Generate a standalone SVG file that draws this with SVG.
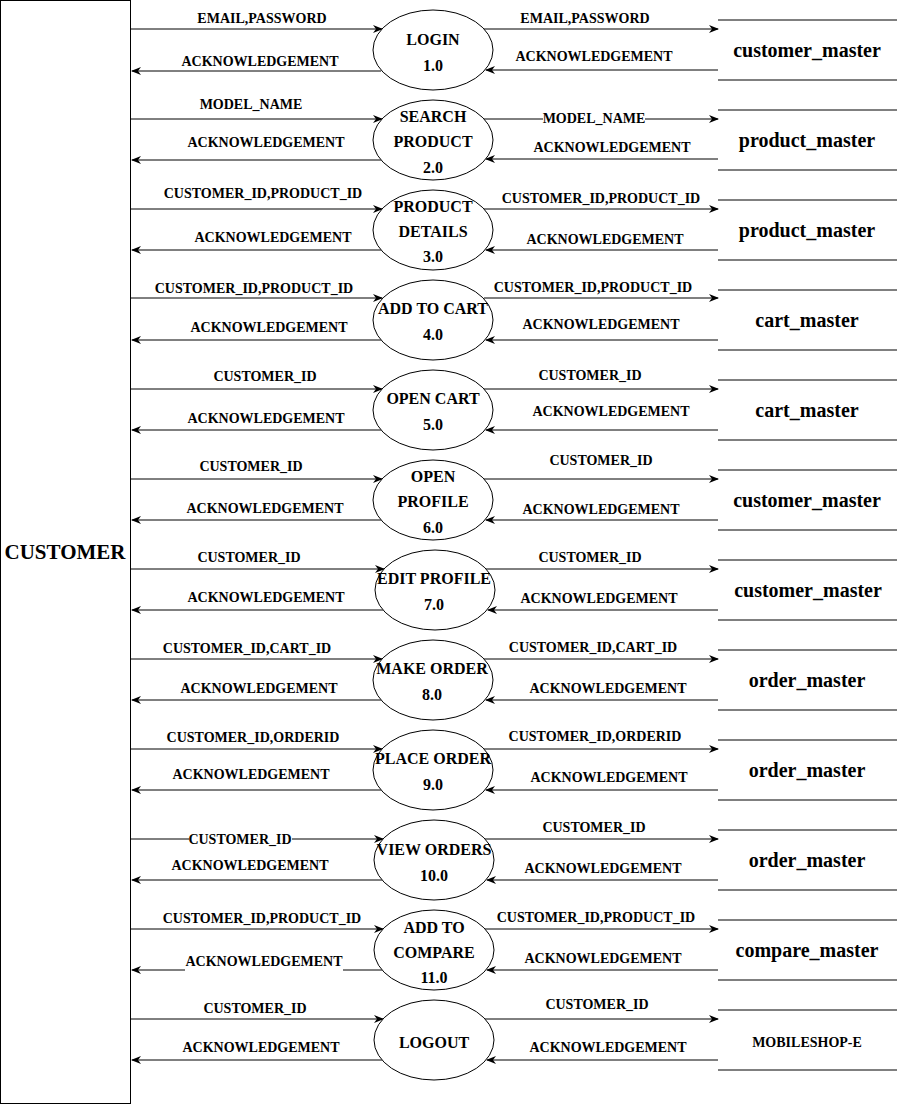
<svg xmlns="http://www.w3.org/2000/svg" width="898" height="1104" viewBox="0 0 898 1104">
<style>
.t{font-family:"Liberation Serif","Times New Roman",serif;font-weight:bold;fill:#000;text-anchor:middle}
.l{font-size:14px}
.p{font-size:16px}
.s{font-size:20px}
.c{stroke:#000;stroke-width:1;fill:none}
.f{stroke:#000;stroke-width:1;fill:none;marker-end:url(#ah)}
.e{fill:#fff;stroke:#000;stroke-width:1}
</style>
<defs>
<marker id="ah" markerWidth="10" markerHeight="8" refX="9" refY="4" orient="auto" markerUnits="userSpaceOnUse">
<path d="M0,0 L10,4 L0,8 L3,4 Z" fill="#000"/>
</marker>
</defs>
<rect width="898" height="1104" fill="#fff"/>
<g id="customer">
<rect x="0.5" y="0.5" width="130" height="1103" fill="#fff" stroke="#000"/>
<text class="t" x="65" y="559" font-size="21">CUSTOMER</text>
</g>
<g id="connectors">
<line class="f" x1="130" y1="29" x2="382" y2="29"/><line class="f" x1="381" y1="71" x2="132" y2="71"/><line class="f" x1="484" y1="29" x2="718" y2="29"/><line class="f" x1="718" y1="70" x2="486" y2="70"/>
<line class="f" x1="130" y1="119" x2="382" y2="119"/><line class="f" x1="381" y1="160" x2="132" y2="160"/><line class="f" x1="484" y1="119" x2="718" y2="119"/><line class="f" x1="718" y1="159" x2="486" y2="159"/>
<line class="f" x1="130" y1="209" x2="382" y2="209"/><line class="f" x1="381" y1="250" x2="132" y2="250"/><line class="f" x1="484" y1="209" x2="718" y2="209"/><line class="f" x1="718" y1="250" x2="486" y2="250"/>
<line class="f" x1="130" y1="298" x2="382" y2="298"/><line class="f" x1="381" y1="340" x2="132" y2="340"/><line class="f" x1="484" y1="298" x2="718" y2="298"/><line class="f" x1="718" y1="340" x2="486" y2="340"/>
<line class="f" x1="130" y1="389" x2="382" y2="389"/><line class="f" x1="381" y1="430" x2="132" y2="430"/><line class="f" x1="484" y1="389" x2="718" y2="389"/><line class="f" x1="718" y1="430" x2="486" y2="430"/>
<line class="f" x1="130" y1="479" x2="382" y2="479"/><line class="f" x1="381" y1="520" x2="132" y2="520"/><line class="f" x1="484" y1="479" x2="718" y2="479"/><line class="f" x1="718" y1="520" x2="486" y2="520"/>
<line class="f" x1="130" y1="569" x2="384" y2="569"/><line class="f" x1="383" y1="610" x2="132" y2="610"/><line class="f" x1="486" y1="569" x2="718" y2="569"/><line class="f" x1="718" y1="610" x2="488" y2="610"/>
<line class="f" x1="130" y1="659" x2="382" y2="659"/><line class="f" x1="381" y1="700" x2="132" y2="700"/><line class="f" x1="484" y1="659" x2="718" y2="659"/><line class="f" x1="718" y1="700" x2="486" y2="700"/>
<line class="f" x1="130" y1="749" x2="382" y2="749"/><line class="f" x1="381" y1="790" x2="132" y2="790"/><line class="f" x1="484" y1="749" x2="718" y2="749"/><line class="f" x1="718" y1="790" x2="486" y2="790"/>
<line class="f" x1="130" y1="839" x2="383" y2="839"/><line class="f" x1="382" y1="880" x2="132" y2="880"/><line class="f" x1="485" y1="839" x2="718" y2="839"/><line class="f" x1="718" y1="880" x2="487" y2="880"/>
<line class="f" x1="130" y1="929" x2="383" y2="929"/><line class="f" x1="382" y1="970" x2="132" y2="970"/><line class="f" x1="485" y1="929" x2="718" y2="929"/><line class="f" x1="718" y1="970" x2="487" y2="970"/>
<line class="f" x1="130" y1="1019" x2="383" y2="1019"/><line class="f" x1="382" y1="1060" x2="132" y2="1060"/><line class="f" x1="485" y1="1019" x2="718" y2="1019"/><line class="f" x1="718" y1="1060" x2="487" y2="1060"/>
</g>
<g id="labels">
<rect x="543" y="111" width="102" height="15" fill="#fff"/>
<rect x="189" y="831" width="103" height="15" fill="#fff"/>
<rect x="185" y="953" width="158" height="18" fill="#fff"/>
<text class="t l" x="262" y="23">EMAIL,PASSWORD</text><text class="t l" x="260" y="66">ACKNOWLEDGEMENT</text><text class="t l" x="585" y="23">EMAIL,PASSWORD</text><text class="t l" x="594" y="61">ACKNOWLEDGEMENT</text>
<text class="t l" x="251" y="109">MODEL_NAME</text><text class="t l" x="266" y="147">ACKNOWLEDGEMENT</text><text class="t l" x="594" y="123">MODEL_NAME</text><text class="t l" x="612" y="152">ACKNOWLEDGEMENT</text>
<text class="t l" x="263" y="198">CUSTOMER_ID,PRODUCT_ID</text><text class="t l" x="273" y="242">ACKNOWLEDGEMENT</text><text class="t l" x="601" y="203">CUSTOMER_ID,PRODUCT_ID</text><text class="t l" x="605" y="244">ACKNOWLEDGEMENT</text>
<text class="t l" x="254" y="293">CUSTOMER_ID,PRODUCT_ID</text><text class="t l" x="269" y="332">ACKNOWLEDGEMENT</text><text class="t l" x="593" y="292">CUSTOMER_ID,PRODUCT_ID</text><text class="t l" x="601" y="329">ACKNOWLEDGEMENT</text>
<text class="t l" x="265" y="381">CUSTOMER_ID</text><text class="t l" x="266" y="423">ACKNOWLEDGEMENT</text><text class="t l" x="590" y="380">CUSTOMER_ID</text><text class="t l" x="611" y="416">ACKNOWLEDGEMENT</text>
<text class="t l" x="251" y="471">CUSTOMER_ID</text><text class="t l" x="265" y="513">ACKNOWLEDGEMENT</text><text class="t l" x="601" y="465">CUSTOMER_ID</text><text class="t l" x="601" y="514">ACKNOWLEDGEMENT</text>
<text class="t l" x="249" y="562">CUSTOMER_ID</text><text class="t l" x="266" y="602">ACKNOWLEDGEMENT</text><text class="t l" x="590" y="562">CUSTOMER_ID</text><text class="t l" x="599" y="603">ACKNOWLEDGEMENT</text>
<text class="t l" x="247" y="653">CUSTOMER_ID,CART_ID</text><text class="t l" x="259" y="693">ACKNOWLEDGEMENT</text><text class="t l" x="593" y="652">CUSTOMER_ID,CART_ID</text><text class="t l" x="608" y="693">ACKNOWLEDGEMENT</text>
<text class="t l" x="253" y="742">CUSTOMER_ID,ORDERID</text><text class="t l" x="251" y="779">ACKNOWLEDGEMENT</text><text class="t l" x="595" y="741">CUSTOMER_ID,ORDERID</text><text class="t l" x="609" y="782">ACKNOWLEDGEMENT</text>
<text class="t l" x="240" y="844">CUSTOMER_ID</text><text class="t l" x="250" y="870">ACKNOWLEDGEMENT</text><text class="t l" x="594" y="832">CUSTOMER_ID</text><text class="t l" x="603" y="873">ACKNOWLEDGEMENT</text>
<text class="t l" x="262" y="923">CUSTOMER_ID,PRODUCT_ID</text><text class="t l" x="264" y="966">ACKNOWLEDGEMENT</text><text class="t l" x="596" y="922">CUSTOMER_ID,PRODUCT_ID</text><text class="t l" x="603" y="963">ACKNOWLEDGEMENT</text>
<text class="t l" x="255" y="1013">CUSTOMER_ID</text><text class="t l" x="261" y="1052">ACKNOWLEDGEMENT</text><text class="t l" x="597" y="1009">CUSTOMER_ID</text><text class="t l" x="608" y="1052">ACKNOWLEDGEMENT</text>
</g>
<g id="p1"><ellipse class="e" cx="433" cy="50" rx="60" ry="40"/><text class="t p" x="433" y="45">LOGIN</text><text class="t p" x="433" y="71">1.0</text></g>
<g id="p2"><ellipse class="e" cx="433" cy="140" rx="60" ry="40"/><text class="t p" x="433" y="122">SEARCH</text><text class="t p" x="433" y="147">PRODUCT</text><text class="t p" x="433" y="173">2.0</text></g>
<g id="p3"><ellipse class="e" cx="433" cy="230" rx="60" ry="40"/><text class="t p" x="433" y="212">PRODUCT</text><text class="t p" x="433" y="237">DETAILS</text><text class="t p" x="433" y="262">3.0</text></g>
<g id="p4"><ellipse class="e" cx="433" cy="320" rx="60" ry="40"/><text class="t p" x="433" y="314">ADD TO CART</text><text class="t p" x="433" y="340">4.0</text></g>
<g id="p5"><ellipse class="e" cx="433" cy="410" rx="60" ry="40"/><text class="t p" x="433" y="404">OPEN CART</text><text class="t p" x="433" y="430">5.0</text></g>
<g id="p6"><ellipse class="e" cx="433" cy="500" rx="60" ry="40"/><text class="t p" x="433" y="482">OPEN</text><text class="t p" x="433" y="507">PROFILE</text><text class="t p" x="433" y="533">6.0</text></g>
<g id="p7"><ellipse class="e" cx="435" cy="590" rx="60" ry="40"/><text class="t p" x="434" y="584">EDIT PROFILE</text><text class="t p" x="434" y="610">7.0</text></g>
<g id="p8"><ellipse class="e" cx="433" cy="680" rx="60" ry="40"/><text class="t p" x="432" y="674">MAKE ORDER</text><text class="t p" x="432" y="700">8.0</text></g>
<g id="p9"><ellipse class="e" cx="433" cy="770" rx="60" ry="40"/><text class="t p" x="433" y="764">PLACE ORDER</text><text class="t p" x="433" y="790">9.0</text></g>
<g id="p10"><ellipse class="e" cx="434" cy="860" rx="60" ry="40"/><text class="t p" x="434" y="855">VIEW ORDERS</text><text class="t p" x="434" y="881">10.0</text></g>
<g id="p11"><ellipse class="e" cx="434" cy="950" rx="60" ry="40"/><text class="t p" x="434" y="933">ADD TO</text><text class="t p" x="434" y="958">COMPARE</text><text class="t p" x="434" y="983">11.0</text></g>
<g id="p12"><ellipse class="e" cx="434" cy="1040" rx="60" ry="40"/><text class="t p" x="434" y="1048">LOGOUT</text></g>
<g id="d1"><line class="c" x1="718" y1="20" x2="897" y2="20"/><line class="c" x1="718" y1="80" x2="897" y2="80"/><text class="t s" x="807" y="57">customer_master</text></g>
<g id="d2"><line class="c" x1="718" y1="110" x2="897" y2="110"/><line class="c" x1="718" y1="170" x2="897" y2="170"/><text class="t s" x="807" y="147">product_master</text></g>
<g id="d3"><line class="c" x1="718" y1="200" x2="897" y2="200"/><line class="c" x1="718" y1="260" x2="897" y2="260"/><text class="t s" x="807" y="237">product_master</text></g>
<g id="d4"><line class="c" x1="718" y1="290" x2="897" y2="290"/><line class="c" x1="718" y1="350" x2="897" y2="350"/><text class="t s" x="807" y="327">cart_master</text></g>
<g id="d5"><line class="c" x1="718" y1="380" x2="897" y2="380"/><line class="c" x1="718" y1="440" x2="897" y2="440"/><text class="t s" x="807" y="417">cart_master</text></g>
<g id="d6"><line class="c" x1="718" y1="470" x2="897" y2="470"/><line class="c" x1="718" y1="530" x2="897" y2="530"/><text class="t s" x="807" y="507">customer_master</text></g>
<g id="d7"><line class="c" x1="718" y1="560" x2="897" y2="560"/><line class="c" x1="718" y1="620" x2="897" y2="620"/><text class="t s" x="808" y="597">customer_master</text></g>
<g id="d8"><line class="c" x1="718" y1="650" x2="897" y2="650"/><line class="c" x1="718" y1="710" x2="897" y2="710"/><text class="t s" x="807" y="687">order_master</text></g>
<g id="d9"><line class="c" x1="718" y1="740" x2="897" y2="740"/><line class="c" x1="718" y1="800" x2="897" y2="800"/><text class="t s" x="807" y="777">order_master</text></g>
<g id="d10"><line class="c" x1="718" y1="830" x2="897" y2="830"/><line class="c" x1="718" y1="890" x2="897" y2="890"/><text class="t s" x="807" y="867">order_master</text></g>
<g id="d11"><line class="c" x1="718" y1="920" x2="897" y2="920"/><line class="c" x1="718" y1="980" x2="897" y2="980"/><text class="t s" x="807" y="957">compare_master</text></g>
<g id="d12"><line class="c" x1="718" y1="1010" x2="897" y2="1010"/><line class="c" x1="718" y1="1070" x2="897" y2="1070"/><text class="t l" x="807" y="1047">MOBILESHOP-E</text></g>
</svg>
